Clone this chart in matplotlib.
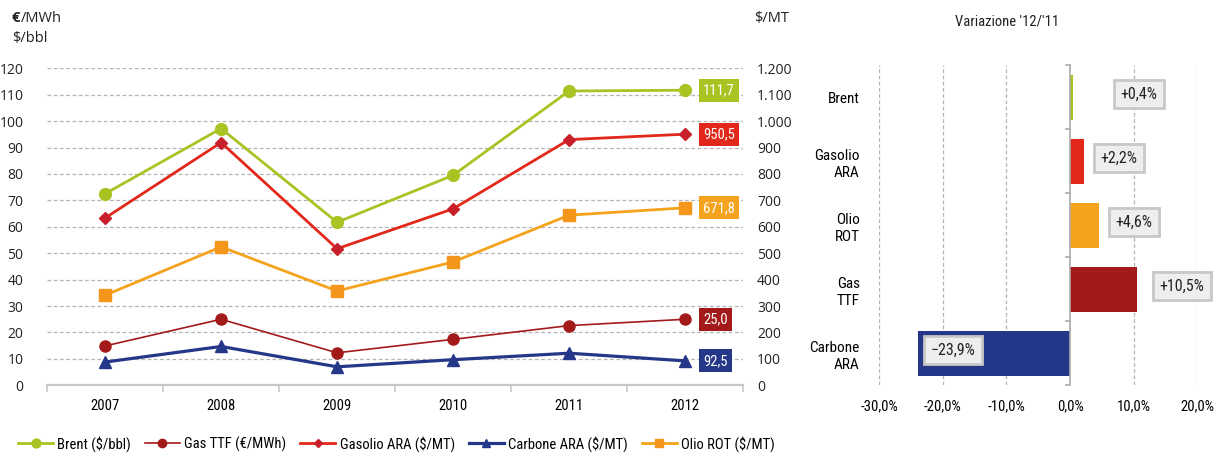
import matplotlib
matplotlib.use("Agg")
import matplotlib.pyplot as plt
from matplotlib import font_manager
import numpy as np

years = ["2007", "2008", "2009", "2010", "2011", "2012"]

# left scale: $/bbl and €/MWh
brent = [72.5, 97.2, 61.7, 79.5, 111.4, 111.7]
gas_ttf = [14.9, 25.0, 12.3, 17.4, 22.6, 25.0]
# right scale: $/MT
gasolio = [633, 919, 517, 668, 930, 950.5]
carbone = [88, 147, 70, 97, 121.5, 92.5]
olio = [341, 524, 357, 467, 644, 671.8]

var_names = ["Brent", "Gasolio\nARA", "Olio\nROT", "Gas\nTTF", "Carbone\nARA"]
var_values = [0.4, 2.2, 4.6, 10.5, -23.9]

C_BRENT = "#a8c423"
C_GAS = "#a31a1a"
C_GASOLIO = "#e2281a"
C_CARBONE = "#253788"
C_OLIO = "#f5a31c"
GRID = "#b4b4b4"
AXIS = "#c8c8c8"


def pick_font(names):
    have = {f.name for f in font_manager.fontManager.ttflist}
    for n in names:
        if n in have:
            return n
    return "DejaVu Sans"


NARROW = pick_font(["Liberation Sans Narrow", "Roboto Condensed", "Open Sans Condensed", "Liberation Sans"])
plt.rcParams["font.family"] = pick_font(["Open Sans", "Liberation Sans"])
plt.rcParams["font.size"] = 10


def it_num(v, dec=1):
    s = f"{v:,.{dec}f}"
    return s.replace(",", "X").replace(".", ",").replace("X", ".")


fig = plt.figure(figsize=(12.19, 4.54), dpi=100)

# ---- line chart ----
ax = fig.add_axes([0.0386, 0.1513, 0.571, 0.6983])
ax2 = ax.twinx()
x = np.arange(len(years))

ax.set_xlim(-0.5, len(years) - 0.5)
ax.set_ylim(0, 120)
ax2.set_ylim(0, 1200)
ax.set_yticks(np.arange(0, 121, 10))
ax2.set_yticks(np.arange(0, 1201, 100))
ax2.set_yticklabels([it_num(v, 0) for v in range(0, 1201, 100)])
ax.yaxis.grid(True, color=GRID, linestyle=(0, (3, 2)), linewidth=0.9)
ax.set_axisbelow(True)
for a in (ax, ax2):
    for s in ("top", "left", "right"):
        a.spines[s].set_visible(False)
    a.spines["bottom"].set_color(AXIS)
    a.spines["bottom"].set_linewidth(1.5)
ax.tick_params(axis="y", length=0, pad=17, labelsize=10, colors="#222222")
ax2.tick_params(axis="y", length=0, pad=10, labelsize=10, colors="#222222")
ax.set_xticks(x)
ax.set_xticklabels(years, fontfamily=NARROW, fontsize=10.5)
ax.set_xticks(np.arange(-0.5, len(years), 1), minor=True)
ax.tick_params(axis="x", which="major", length=0, pad=10)
ax.tick_params(axis="x", which="minor", length=5, color=AXIS, width=1.2)

h_brent, = ax.plot(x, brent, color=C_BRENT, lw=2, marker="o", ms=8.5, label="Brent ($/bbl)", zorder=5)
h_gas, = ax.plot(x, gas_ttf, color=C_GAS, lw=1.2, marker="o", ms=8, label="Gas TTF (€/MWh)", zorder=5)
h_gasolio, = ax2.plot(x, gasolio, color=C_GASOLIO, lw=2, marker="D", ms=6, mfc="#c8202a", mec="#c8202a",
                      label="Gasolio ARA ($/MT)", zorder=5)
h_carbone, = ax2.plot(x, carbone, color=C_CARBONE, lw=2.3, marker="^", ms=8, label="Carbone ARA ($/MT)", zorder=5)
h_olio, = ax2.plot(x, olio, color=C_OLIO, lw=2, marker="s", ms=8.5, mfc="#f5961c", mec="#f5961c",
                   label="Olio ROT ($/MT)", zorder=5)

# last-value tags
last = len(years) - 1
for axis, vals, col in [(ax, brent, C_BRENT), (ax, gas_ttf, C_GAS), (ax2, gasolio, C_GASOLIO),
                        (ax2, carbone, C_CARBONE), (ax2, olio, C_OLIO)]:
    axis.annotate(it_num(vals[last]), xy=(last, vals[last]), xytext=(13, 0), textcoords="offset points",
                  ha="left", va="center", color="white", fontsize=10.5, fontfamily=NARROW,
                  bbox=dict(boxstyle="square,pad=0.3", fc=col, ec="none"), zorder=6)

# unit headers
euro = fig.text(0.0098, 0.960, "€", fontsize=10.5, fontweight="bold", ha="left", va="center", color="#222222")
plt.annotate("/MWh", xy=(1, 0.5), xycoords=euro, xytext=(0.5, 0), textcoords="offset points",
             fontsize=10.5, ha="left", va="center", color="#222222")
fig.text(0.0098, 0.916, "$/bbl", fontsize=10.5, ha="left", va="center", color="#222222")
fig.text(0.619, 0.960, "$/MT", fontsize=10.5, ha="left", va="center", color="#222222")

fig.legend(handles=[h_brent, h_gas, h_gasolio, h_carbone, h_olio], loc="center left",
           bbox_to_anchor=(0.004, 0.022), ncol=5, frameon=False, handlelength=2.4,
           handletextpad=0.3, columnspacing=0.95, markerscale=0.75,
           prop={"family": NARROW, "size": 10.5})

# ---- variation bars ----
bx = fig.add_axes([0.7213, 0.1513, 0.2609, 0.705])
pos = np.arange(len(var_names))
bar_colors = [C_BRENT, C_GASOLIO, C_OLIO, C_GAS, C_CARBONE]
bx.barh(pos, var_values, height=0.71, color=bar_colors, zorder=3)
bx.set_xlim(-30, 20)
bx.set_ylim(len(var_names) - 0.5, -0.5)
bx.set_xticks(np.arange(-30, 21, 10))
bx.set_xticklabels([it_num(v) + "%" for v in range(-30, 21, 10)], fontfamily=NARROW, fontsize=10.5)
bx.tick_params(axis="x", length=0, pad=10)
for v in (-30, -20, -10, 10, 20):
    bx.axvline(v, color=GRID, linestyle=(0, (3, 2)), linewidth=0.9, zorder=1)
for s in ("top", "right", "bottom", "left"):
    bx.spines[s].set_visible(False)
bx.axvline(0, color="#aaaaaa", lw=1.2, zorder=4)
bx.set_yticks(pos)
bx.set_yticklabels(var_names, fontfamily=NARROW, fontsize=11, ha="right", linespacing=1.3)
bx.tick_params(axis="y", which="major", length=0, pad=14)
for b in np.arange(-0.5, len(var_names), 1):
    bx.plot([-0.7, 0], [b, b], color="#aaaaaa", lw=1.2, zorder=4, clip_on=False)

# tag offsets from bar end, in % units
tag_shift = [10.4, 5.5, 5.4, 7.1, 5.5]
for i, v in enumerate(var_values):
    sign = "+" if v > 0 else "−"
    bx.text(v + tag_shift[i], i - 0.05, sign + it_num(abs(v)) + "%", ha="center", va="center",
            fontsize=11.5, fontfamily=NARROW, color="#222222", zorder=6,
            bbox=dict(boxstyle="square,pad=0.4", fc="#eeeeee", ec="#c8c8c8", lw=2))

fig.text(0.826, 0.953, "Variazione '12/'11", fontsize=10.5, fontfamily=NARROW, ha="center", va="center",
         color="#222222")

fig.savefig("out.png", dpi=100)
